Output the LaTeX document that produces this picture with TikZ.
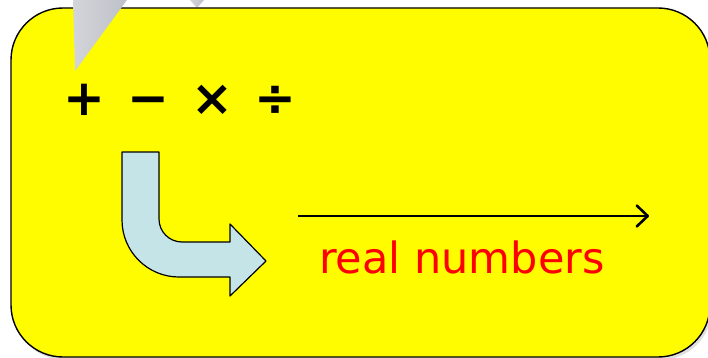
\documentclass[tikz,border=0pt]{standalone}
\usepackage{fontspec}
\newfontfamily\labelfont{DejaVu Sans}
\usetikzlibrary{arrows.meta,shadows}
\definecolor{boardyellow}{RGB}{255,252,0}
\definecolor{bendblue}{RGB}{197,228,232}
\definecolor{pointerlight}{RGB}{212,213,218}
\definecolor{pointerdark}{RGB}{190,192,200}
\begin{document}
\begin{tikzpicture}[x=1pt, y=-1pt,
    every node/.style={inner sep=0pt},
    board/.style={rectangle, draw=black, line width=1.4pt, fill=boardyellow,
                  rounded corners=52pt, minimum width=699pt, minimum height=349pt,
                  drop shadow={opacity=0.25, shadow xshift=2pt, shadow yshift=-3pt}},
    ops/.style={font=\labelfont\bfseries\fontsize{50}{50}\selectfont, anchor=base},
    reals/.style={font=\labelfont\fontsize{43}{43}\selectfont, text=red, anchor=base west},
    bentarrow/.style={draw=black, line width=1.2pt, fill=bendblue, line join=round},
    pointer/.style={left color=pointerlight, right color=pointerdark},
    arr/.style={-{Straight Barb[length=11pt, width=21pt, line width=2.6pt, round]}, line width=1.6pt},
]
\clip (0,0) rectangle (708,358);
% pointers of the callout
\shade[pointer] (190,0) -- (204,0) -- (197,8) -- cycle;
\node[board] (board) at (360.5,182.5) {};
\shade[pointer] (73,0) -- (127,0) -- (75,71) -- cycle;
% operations
\node[ops] (ops) at (180,116) {+\hspace{22pt}−\hspace{22pt}×\hspace{22pt}÷};
% bent arrow
\draw[bentarrow] (122,152) -- (159,152) -- (159,219) arc (180:90:23)
  -- (230,242) -- (230,224) -- (266,261) -- (230,296) -- (230,277) -- (179,277) arc (90:180:57) -- cycle;
% number line
\coordinate (linestart) at (298,216);
\coordinate (lineend) at (649,216);
\draw[arr] (linestart) -- (lineend);
\node[reals] (reals) at (319,273) {real numbers};
\end{tikzpicture}
\end{document}
